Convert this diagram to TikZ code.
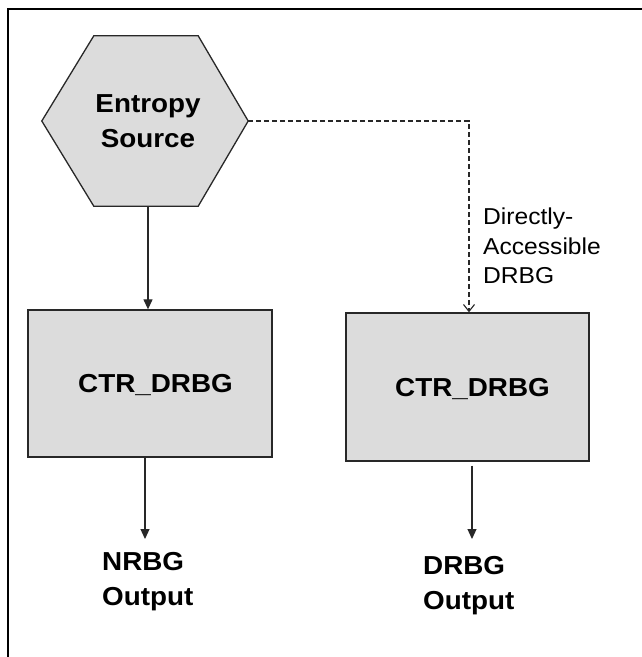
\documentclass[tikz,border=0pt]{standalone}
\usepackage{fontspec}
\setmainfont{Liberation Sans}[FakeStretch=1.07]
\usetikzlibrary{arrows.meta,calc}

\definecolor{boxgray}{RGB}{220,220,220}
\definecolor{edgegray}{RGB}{40,40,40}

\tikzset{
  shaded/.style={fill=boxgray, draw=edgegray, line width=1.3pt},
  procbox/.style={shaded, minimum height=147pt, inner sep=0pt},
  heavy/.style={font=\fontsize{26}{35.5}\selectfont\bfseries, inner sep=0pt},
  plain/.style={font=\fontsize{23}{29.5}\selectfont, inner sep=0pt},
  arr/.style={draw=edgegray, line width=1.2pt, -{Triangle[length=10pt,width=9pt]}},
  dasharr/.style={draw=edgegray, line width=1.1pt, dash pattern=on 5pt off 3pt,
    -{Straight Barb[length=7pt,width=11pt]}},
  frame/.style={draw=black, line width=2pt}
}

\begin{document}
\begin{tikzpicture}[x=1pt,y=-1pt]
\useasboundingbox (0,0) rectangle (642,657);

% outer frame: left and top edges only
\draw[frame] (8,657) -- (8,9) -- (642,9);

% entropy source hexagon
\node[minimum width=206pt, minimum height=170pt, inner sep=0pt] (src) at (145,121) {};
\filldraw[shaded] (src.west) -- ($(src.north west)+(52,0)$) -- ($(src.north east)+(-50,0)$)
  -- (src.east) -- ($(src.south east)+(-50,0)$) -- ($(src.south west)+(52,0)$) -- cycle;
\node[heavy, align=center] (srctext) at ([xshift=3pt]src.center) {Entropy\\Source};

% the two CTR_DRBG instances
\node[procbox, minimum width=244pt] (b1) at (150,383.5) {};
\node[heavy, text depth=0pt] (b1text) at ([xshift=5.5pt]b1.center) {CTR\_DRBG};
\node[procbox, minimum width=243pt, minimum height=148pt] (b2) at (467.5,387) {};
\node[heavy, text depth=0pt] (b2text) at ([xshift=5pt]b2.center) {CTR\_DRBG};

% outputs
\node[heavy, align=left, anchor=north west] (out1) at (102,552) {NRBG\\Output};
\node[heavy, align=left, anchor=north west] (out2) at (423,556) {DRBG\\Output};
\coordinate (t1) at (145,539);
\coordinate (t2) at (472,539);

% label on the dashed path
\node[plain, align=left, anchor=north west] (lab) at (483,208) {Directly-\\Accessible\\DRBG};

% connectors
\draw[arr] ([xshift=3pt]src.south) -- ([xshift=-2pt]b1.north);
\draw[dasharr] (src.east) -| ([xshift=1.5pt]b2.north);
\draw[arr] ([xshift=-5pt]b1.south) -- (t1);
\draw[arr] ([xshift=4.5pt,yshift=-4pt]b2.south) -- (t2);
\end{tikzpicture}
\end{document}
